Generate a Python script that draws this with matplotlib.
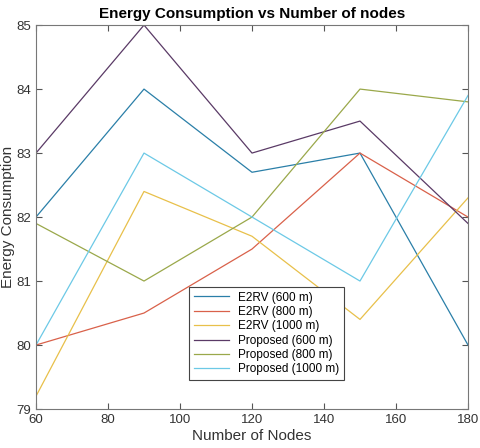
import matplotlib.pyplot as plt

plt.rcParams['font.family'] = ['Liberation Sans', 'DejaVu Sans']

nodes = [60, 90, 120, 150, 180]

e2rv_600 = [82.0, 84.0, 82.7, 83.0, 80.0]
e2rv_800 = [80.0, 80.5, 81.5, 83.0, 82.0]
e2rv_1000 = [79.2, 82.4, 81.7, 80.4, 82.3]
prop_600 = [83.0, 85.0, 83.0, 83.5, 81.9]
prop_800 = [81.9, 81.0, 82.0, 84.0, 83.8]
prop_1000 = [80.0, 83.0, 82.0, 81.0, 83.9]

labels = ["E2RV (600 m)", "E2RV (800 m)", "E2RV (1000 m)",
          "Proposed (600 m)", "Proposed (800 m)", "Proposed (1000 m)"]
colors = ["#2a7fa8", "#d9614a", "#e8c04a", "#5a3a66", "#9aa84a", "#6cc9e6"]

fig = plt.figure(figsize=(4.8, 4.48), dpi=100)
ax = fig.add_axes([0.075, 0.087, 0.9, 0.857])

for ys, lab, c in zip([e2rv_600, e2rv_800, e2rv_1000, prop_600, prop_800, prop_1000],
                      labels, colors):
    ax.plot(nodes, ys, color=c, lw=0.9, label=lab)

ax.set_xlim(60, 180)
ax.set_ylim(79, 85)
ax.set_xticks(range(60, 181, 20))
ax.set_yticks(range(79, 86))
ax.tick_params(direction="in", labelsize=9.5, length=4, top=True, right=True,
               colors="#555555", labelcolor="#333333")
for s in ax.spines.values():
    s.set_color("#777777")

ax.set_xlabel("Number of Nodes", fontsize=11, color="#333333", labelpad=2)
ax.set_ylabel("Energy Consumption", fontsize=11, color="#333333", labelpad=1)
ax.set_title("Energy Consumption vs Number of nodes", fontsize=11,
             fontweight="bold", pad=5)

leg = ax.legend(loc="lower left", bbox_to_anchor=(0.34, 0.06), fontsize=8.5,
                fancybox=False, framealpha=1, edgecolor="#444444",
                handlelength=3, borderpad=0.4, labelspacing=0.2)
leg.get_frame().set_linewidth(0.8)

fig.savefig("out.png", dpi=100)
